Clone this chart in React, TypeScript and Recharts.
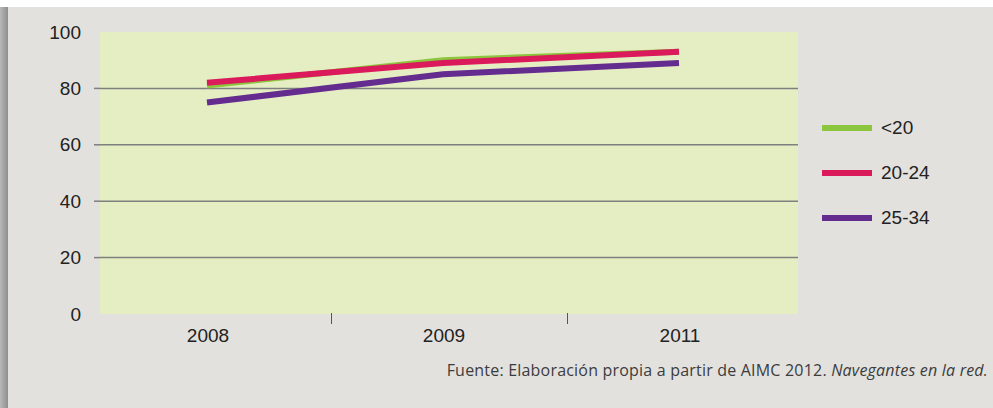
import React from "react"
import {
  LineChart,
  Line,
  XAxis,
  YAxis,
  CartesianGrid,
  ReferenceLine,
} from "recharts"

const years = ["2008", "2009", "2011"]
const under20 = [81, 90, 93]
const from20to24 = [82, 89, 93]
const from25to34 = [75, 85, 89]
const yTicks = [0, 20, 40, 60, 80, 100]
const gridValues = [20, 40, 60, 80]

const series = [
  { key: "u20", name: "<20", color: "#8cc63e", values: under20 },
  { key: "a20", name: "20-24", color: "#db1a5b", values: from20to24 },
  { key: "a25", name: "25-34", color: "#652c90", values: from25to34 },
]

const data = years.map((year, i) => {
  const row: Record<string, string | number> = { year }
  series.forEach((s) => {
    row[s.key] = s.values[i]
  })
  return row
})

const FONT = '"Liberation Sans", Arial, sans-serif'
// separators sit between the category points
const SEP = 111.5

function YTick(props: any) {
  const { x, y, payload } = props
  const inner = payload.value > 0 && payload.value < 100
  return (
    <g>
      {inner && <line x1={x + 13} x2={x + 19} y1={y} y2={y} stroke="#7f7f7f" strokeWidth={1.5} />}
      <text x={x} y={y} textAnchor="end" dominantBaseline="central" fontSize={19} fill="#222" fontFamily={FONT}>
        {payload.value}
      </text>
    </g>
  )
}

function XTick(props: any) {
  const { x, y, payload, index } = props
  return (
    <g>
      {index > 0 && (
        <line x1={x - SEP} x2={x - SEP} y1={y - 1} y2={y + 10} stroke="#555" strokeWidth={1} />
      )}
      <text x={x + 1} y={y + 21} textAnchor="middle" dominantBaseline="central" fontSize={19} fill="#222" fontFamily={FONT}>
        {payload.value}
      </text>
    </g>
  )
}

export default function App() {
  return (
    <div style={{ position: "absolute", left: 0, top: 0, width: 993, height: 408, background: "#fff", overflow: "hidden" }}>
      <div style={{ position: "absolute", left: 8, top: 7, right: 0, bottom: 0, background: "#e2e1de" }} />
      <div
        style={{
          position: "absolute",
          left: 0,
          top: 7,
          width: 8,
          bottom: 0,
          background: "linear-gradient(to right, #b8b8b8, #8e8e8e)",
        }}
      />
      <div style={{ position: "absolute", left: 0, top: 0 }}>
        <LineChart width={993} height={408} data={data} margin={{ top: 32, right: 195, bottom: 54, left: 40 }}>
          <CartesianGrid horizontal={false} vertical={false} fill="#e5eec3" fillOpacity={1} stroke="none" />
          {gridValues.map((v) => (
            <ReferenceLine key={v} y={v} stroke="#7f7f7f" strokeWidth={1.5} />
          ))}
          <XAxis
            dataKey="year"
            height={40}
            axisLine={false}
            tickLine={false}
            tickSize={0}
            tickMargin={0}
            tick={<XTick />}
            interval={0}
            padding={{ left: 107, right: 119 }}
          />
          <YAxis
            domain={[0, 100]}
            ticks={yTicks}
            width={60}
            axisLine={false}
            tickLine={false}
            tickSize={0}
            tickMargin={19}
            tick={<YTick />}
            interval={0}
          />
          {series.map((s) => (
            <Line
              key={s.key}
              dataKey={s.key}
              name={s.name}
              stroke={s.color}
              strokeWidth={6}
              dot={false}
              activeDot={false}
              isAnimationActive={false}
            />
          ))}
        </LineChart>
      </div>
      <div style={{ position: "absolute", left: 822, top: 105 }}>
        {series.map((s) => (
          <div key={s.key} style={{ display: "flex", alignItems: "center", height: 45 }}>
            <div style={{ width: 50, height: 6, background: s.color, marginRight: 9 }} />
            <span style={{ fontSize: 19, color: "#222", fontFamily: FONT }}>{s.name}</span>
          </div>
        ))}
      </div>
      <div
        style={{
          position: "absolute",
          right: 5,
          top: 359,
          fontSize: 16,
          letterSpacing: 0.2,
          color: "#3c3c3c",
          fontFamily: '"Open Sans", sans-serif',
          whiteSpace: "nowrap",
        }}
      >
        Fuente: Elaboración propia a partir de AIMC 2012. <i>Navegantes en la red.</i>
      </div>
    </div>
  )
}
